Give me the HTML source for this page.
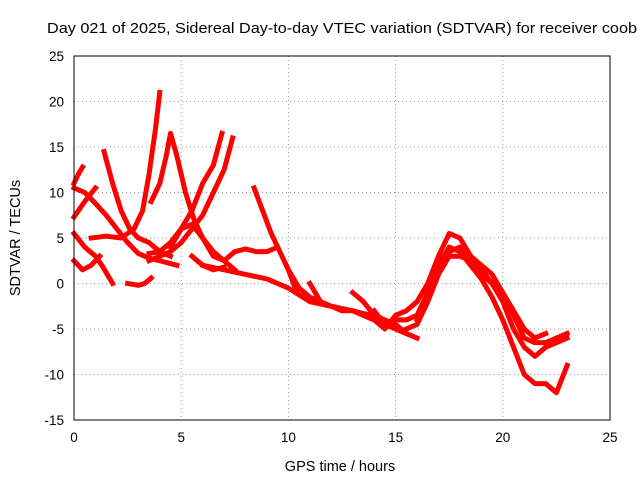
<!DOCTYPE html>
<html><head><meta charset="utf-8"><style>
body{margin:0;background:#fff;}
svg{display:block;font-family:"Liberation Sans",sans-serif;}
</style></head><body>
<svg id="chart" width="640" height="480" viewBox="0 0 640 480">
<rect width="640" height="480" fill="#fff"/>
<text x="47" y="33" font-size="15" textLength="590" lengthAdjust="spacingAndGlyphs" fill="#000">Day 021 of 2025, Sidereal Day-to-day VTEC variation (SDTVAR) for receiver coob</text>
<g id="grid"></g>
<g id="series" stroke="#f00" fill="none" stroke-width="5" stroke-linejoin="round" stroke-linecap="square"></g>
<rect x="74" y="56" width="536" height="364" fill="none" stroke="#000" stroke-width="1"/>
<g id="ticks" font-size="13.5" fill="#000"></g>
<text x="340" y="471" font-size="14.5" text-anchor="middle">GPS time / hours</text>
<text transform="translate(20,238) rotate(-90)" font-size="14.5" text-anchor="middle">SDTVAR / TECUs</text>
</svg>
<script>
const xTicks=[0,5,10,15,20,25];
const yTicks=[25,20,15,10,5,0,-5,-10,-15];
const sx1=[0,0.2,0.4], sy1=[11,12,12.8];
const sx2=[0,0.5,1], sy2=[7.3,9,10.5];
const sx3=[0,0.5,1,1.5,2,2.5,3,3.5,4,4.8], sy3=[10.5,10,8.8,7.5,6,4.5,3.3,2.8,2.5,2];
const sx4=[0,0.5,1,1.3,1.8], sy4=[5.5,4,3,2,0];
const sx5=[0,0.4,0.8,1.2], sy5=[2.5,1.5,2,3];
const sx6=[0.8,1.5,2.2,2.8,3.2,3.5,3.8,4], sy6=[5,5.2,5,6,8,12,17,21];
const sx7=[1.4,1.8,2.2,2.6,3,3.5,4,4.5], sy7=[14.5,11,8,6,5,4.5,3.5,3];
const sx8=[3.6,4,4.3,4.5,4.8,5.2,5.6,6,6.5,7,7.5], sy8=[9,11,14,16.5,14,10,7,5,3,2.5,1.5];
const sx9=[2.5,3,3.3,3.6], sy9=[0,-0.2,0,0.6];
const sx10=[3.5,4,4.5,5,5.5,6,6.5,6.9], sy10=[3.3,3.5,4.5,6,8,11,13,16.5];
const sx11=[3.5,4,4.5,5,5.5,6,6.5,7,7.4], sy11=[2.5,3,3.5,4.5,6,7.5,10,12.5,16];
const sx12=[4.5,5,5.5,6,6.5,7,7.5,8,8.5,9,9.5], sy12=[4,6,6.5,5,3.5,2.5,3.5,3.8,3.5,3.5,4];
const sx13=[5.5,6,6.5,7], sy13=[3,2,1.5,1.8];
const sx14=[8.4,8.8,9.2,9.6,10,10.5,11,11.5,12,12.5,13,13.5,14,14.5,15,15.5,16], sy14=[10.5,8,5.5,3.5,1.5,-0.5,-1.5,-2,-2.5,-3,-3,-3.3,-3.5,-4,-4.5,-5.5,-6];
const sx15=[6,7,8,9,10,11,12,13,14,14.5,15,15.5,16,16.5,17,17.5,18,18.5,19,19.5,20,20.5,21,21.5,22,22.5,23], sy15=[2,1.5,1,0.5,-0.5,-2,-2.5,-3,-4,-5,-3.5,-3,-2,0,3,5.5,5,3,1,0,-1.5,-3.5,-6,-6.5,-6.5,-6,-5.5];
const sx16=[14,14.5,15,15.5,16,16.5,17,17.5,18,18.5,19,19.5,20,20.5,21,21.5,22,22.5,23], sy16=[-3,-4.5,-4,-4,-3.5,-1,2,4,3.5,2,0.5,-1.5,-4,-7,-10,-11,-11,-12,-9];
const sx17=[15.5,16,16.5,17,17.5,18,18.5,19,19.5,20,20.5,21,21.5,22,22.5,23], sy17=[-5,-4.5,-2,1,3,3,2.5,1.5,0,-2,-5,-7,-8,-7,-6.5,-6];
const sx18=[16,16.5,17,17.5,18,18.5,19,19.5,20,20.5,21,21.5,22], sy18=[-4,-1.5,1.5,3.5,4,3,2,1,-1,-3,-5,-6,-5.5];
const sx19=[10,10.4], sy19=[1.5,-1];
const sx20=[11,11.5], sy20=[0,-2];
const sx21=[13,13.5,14], sy21=[-1,-2,-3.5];
const sx22=[13.5,14.5,15.5], sy22=[-3.5,-4.5,-5.5];
const allX=[sx1,sx2,sx3,sx4,sx5,sx6,sx7,sx8,sx9,sx10,sx11,sx12,sx13,sx14,sx15,sx16,sx17,sx18,sx19,sx20,sx21,sx22];
const allY=[sy1,sy2,sy3,sy4,sy5,sy6,sy7,sy8,sy9,sy10,sy11,sy12,sy13,sy14,sy15,sy16,sy17,sy18,sy19,sy20,sy21,sy22];

const X=v=>74+v*(536/25);
const Y=v=>420-(v+15)*(364/40);
const NS='http://www.w3.org/2000/svg';
const grid=document.getElementById('grid'), ticks=document.getElementById('ticks'), ser=document.getElementById('series');
xTicks.forEach(t=>{
  if(t>0&&t<25){const l=document.createElementNS(NS,'line');
  l.setAttribute('x1',X(t));l.setAttribute('x2',X(t));l.setAttribute('y1',56);l.setAttribute('y2',420);
  l.setAttribute('stroke','#999');l.setAttribute('stroke-dasharray','1,3');
  
  
  grid.appendChild(l);}
  const tx=document.createElementNS(NS,'text');
  tx.setAttribute('x',X(t));tx.setAttribute('y',442);tx.setAttribute('text-anchor','middle');
  tx.textContent=t;
  
  
  ticks.appendChild(tx);
});
yTicks.forEach(t=>{
  if(t>-15&&t<25){const l=document.createElementNS(NS,'line');
  l.setAttribute('x1',74);l.setAttribute('x2',610);l.setAttribute('y1',Y(t));l.setAttribute('y2',Y(t));
  l.setAttribute('stroke','#999');l.setAttribute('stroke-dasharray','1,3');
  
  
  grid.appendChild(l);}
  const tx=document.createElementNS(NS,'text');
  tx.setAttribute('x',64);tx.setAttribute('y',Y(t)+5);tx.setAttribute('text-anchor','end');
  tx.textContent=t;
  
  
  ticks.appendChild(tx);
});
allX.forEach((xs,i)=>{
  const ys=allY[i];
  const p=document.createElementNS(NS,'polyline');
  p.setAttribute('points',xs.map((x,j)=>X(x)+','+Y(ys[j])).join(' '));
  
  
  ser.appendChild(p);
});
</script>
</body></html>
